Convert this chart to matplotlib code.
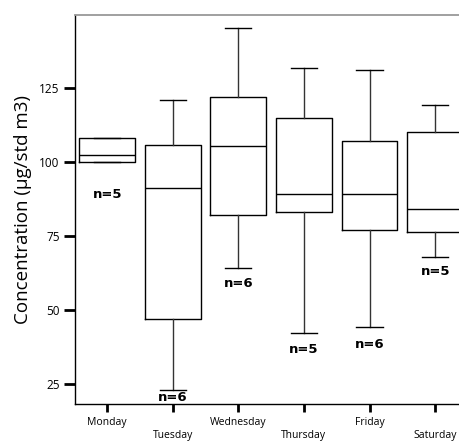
import matplotlib
matplotlib.use('Agg')
import matplotlib.pyplot as plt

# 数据
days = ['Monday', 'Tuesday', 'Wednesday', 'Thursday', 'Friday', 'Saturday']
whisker_low = [99.9, 23.1, 64.3, 42.3, 44.2, 67.9]
q1 = [99.9, 47.0, 82.1, 83.0, 77.0, 76.2]
median = [102.3, 91.2, 105.4, 89.1, 89.1, 84.0]
q3 = [108.2, 105.8, 121.9, 115.0, 107.2, 110.0]
whisker_high = [108.2, 121.0, 145.2, 131.9, 131.0, 119.2]
n_counts = [5, 6, 6, 5, 6, 5]
n_label_y = [88.9, 20.3, 59.1, 36.5, 38.2, 62.9]

plt.rcParams['font.family'] = ['Open Sans', 'DejaVu Sans']

fig = plt.figure(figsize=(4.6, 4.41), dpi=100)
ax = fig.add_axes([75 / 460, 37 / 441, 393 / 460, 389 / 441])

stats = []
for i, d in enumerate(days):
    stats.append({'label': d, 'whislo': whisker_low[i], 'q1': q1[i],
                  'med': median[i], 'q3': q3[i], 'whishi': whisker_high[i],
                  'fliers': []})

pos = list(range(1, len(days) + 1))
ax.bxp(stats, positions=pos, widths=0.85, showfliers=False,
       boxprops=dict(color='black', linewidth=1.0),
       medianprops=dict(color='black', linewidth=1.0),
       whiskerprops=dict(color='#333333', linewidth=1.0),
       capprops=dict(color='black', linewidth=1.0),
       capwidths=0.4)

# n= 标签
for i, p in enumerate(pos):
    ax.text(p, n_label_y[i], f'n={n_counts[i]}', ha='center', va='center',
            fontsize=9.5, fontweight='bold', family='DejaVu Sans')

ax.set_xlim(0.51, 6.5)
ax.set_ylim(18.2, 149.7)
ax.set_yticks([25, 50, 75, 100, 125])
ax.set_xticks(pos)
ax.set_xticklabels([d if i % 2 == 0 else '\n' + d for i, d in enumerate(days)])
for lbl in ax.get_xticklabels():
    lbl.set_linespacing(1.35)
ax.tick_params(axis='x', length=6, width=2, labelsize=7.5, pad=3)
ax.tick_params(axis='y', length=8, width=2, labelsize=8.5, pad=3)

ax.set_ylabel('Concentration (µg/std m3)', fontsize=13.5, labelpad=5)

ax.spines['top'].set_color('#999999')
ax.spines['top'].set_linewidth(1.3)
ax.spines['right'].set_visible(False)
for s in ['left', 'bottom']:
    ax.spines[s].set_linewidth(1.0)

fig.savefig('out.png', dpi=100)
